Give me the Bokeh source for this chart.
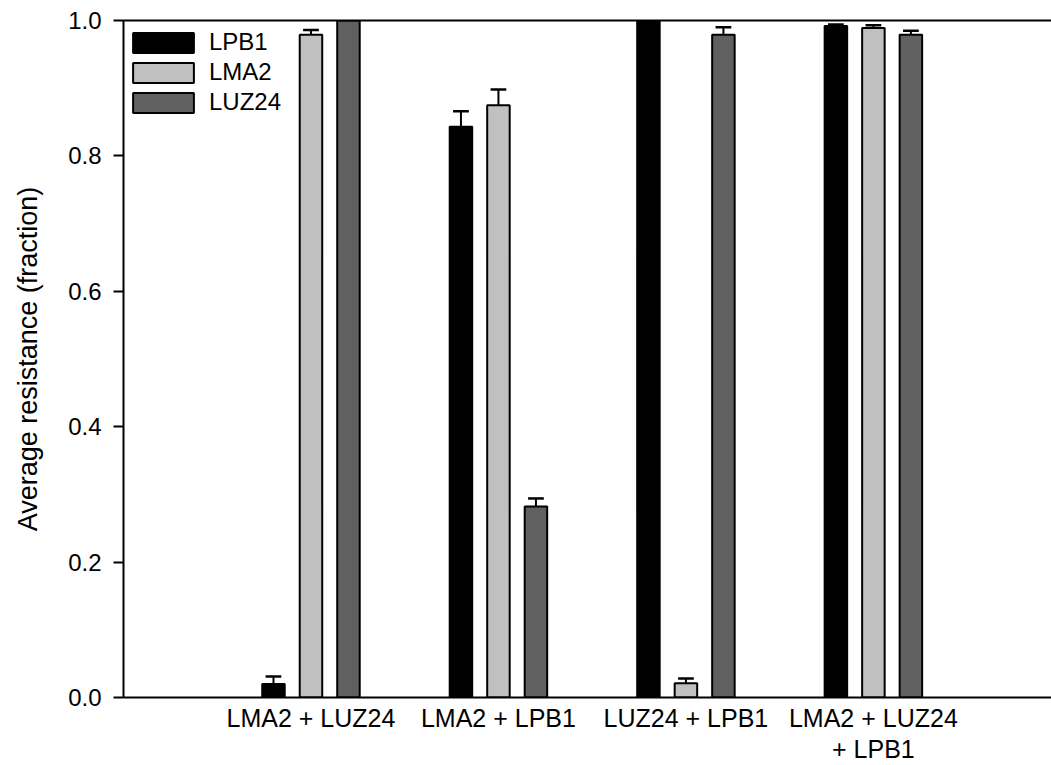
from bokeh.plotting import figure
from bokeh.models import (ColumnDataSource, FixedTicker, Legend, LegendItem,
                          Range1d, PrintfTickFormatter, LinearAxis)
from bokeh.embed import file_html
from bokeh.resources import INLINE

# ---- data ----
categories = ["LMA2 + LUZ24", "LMA2 + LPB1", "LUZ24 + LPB1", "LMA2 + LUZ24\n+ LPB1"]
series_names = ["LPB1", "LMA2", "LUZ24"]
lpb1 = [0.020, 0.843, 1.000, 0.992]
lpb1_err = [0.011, 0.023, 0.000, 0.002]
lma2 = [0.979, 0.875, 0.021, 0.989]
lma2_err = [0.007, 0.023, 0.007, 0.004]
luz24 = [1.000, 0.282, 0.979, 0.979]
luz24_err = [0.000, 0.012, 0.011, 0.006]
y_ticks = [0.0, 0.2, 0.4, 0.6, 0.8, 1.0]

# ---- style ----
FONT = "Liberation Sans"
colors = ["#000000", "#c0c0c0", "#606060"]
offsets = [-0.2, 0.0, 0.2]
bar_w = 0.12
cap_half = 0.042
group_pos = list(range(1, len(categories) + 1))

p = figure(width=1051, height=765, x_range=Range1d(0, 4.95), y_range=Range1d(0, 1.0),
           output_backend="svg", toolbar_location=None,
           min_border_left=123, min_border_top=20, min_border_right=0, min_border_bottom=67)
p.grid.visible = False
p.outline_line_color = None
p.background_fill_color = "white"
p.border_fill_color = "white"

renderers = []
for vals, errs, col, off in zip([lpb1, lma2, luz24], [lpb1_err, lma2_err, luz24_err], colors, offsets):
    xs = [g + off for g in group_pos]
    src = ColumnDataSource(dict(
        x=xs, top=vals,
        up=[v + e for v, e in zip(vals, errs)],
        x0=[x - cap_half for x in xs], x1=[x + cap_half for x in xs]))
    # error bars (upper only)
    p.segment(x0="x", y0="top", x1="x", y1="up", source=src, line_color="black", line_width=2)
    p.segment(x0="x0", y0="up", x1="x1", y1="up", source=src, line_color="black", line_width=2.5)
    r = p.vbar(x="x", top="top", bottom=0, width=bar_w, source=src,
               fill_color=col, line_color="black", line_width=2)
    renderers.append(r)

# top border line (axis without ticks or labels)
top_axis = LinearAxis(ticker=FixedTicker(ticks=[]), axis_line_width=2, axis_line_color="black",
                      major_tick_out=0, major_tick_in=0, minor_tick_out=0, minor_tick_in=0,
                      major_label_text_font_size="0px")
p.add_layout(top_axis, "above")

# y axis
ya = p.yaxis[0]
ya.ticker = FixedTicker(ticks=y_ticks)
ya.formatter = PrintfTickFormatter(format="%.1f")
ya.axis_label = "Average resistance (fraction)"
ya.axis_label_text_font = FONT
ya.axis_label_text_font_size = "27px"
ya.axis_label_text_font_style = "normal"
ya.axis_label_text_color = "black"
ya.axis_label_standoff = 22
ya.major_label_text_font = FONT
ya.major_label_text_font_size = "24px"
ya.major_label_text_color = "black"
ya.major_label_standoff = 12
ya.major_tick_out = 10
ya.major_tick_in = 0
ya.minor_tick_out = 0
ya.minor_tick_in = 0
ya.axis_line_width = 2
ya.major_tick_line_width = 2

# x axis
xa = p.below[0]
xa.ticker = FixedTicker(ticks=group_pos)
xa.major_label_overrides = {g: c for g, c in zip(group_pos, categories)}
xa.major_label_text_font = FONT
xa.major_label_text_font_size = "25px"
xa.major_label_text_line_height = 1.12
xa.major_label_text_color = "black"
xa.major_label_standoff = 6
xa.major_tick_out = 0
xa.major_tick_in = 0
xa.minor_tick_out = 0
xa.minor_tick_in = 0
xa.axis_line_width = 2

legend = Legend(items=[LegendItem(label=n, renderers=[r]) for n, r in zip(series_names, renderers)],
                location=(2, 580), margin=0, padding=0,
                glyph_width=76, glyph_height=25, label_height=30, spacing=0,
                label_standoff=8, label_text_font=FONT, label_text_font_size="24px",
                label_text_color="black",
                border_line_color=None, background_fill_alpha=0)
p.add_layout(legend)

open("out.html", "w").write(file_html(p, INLINE))
